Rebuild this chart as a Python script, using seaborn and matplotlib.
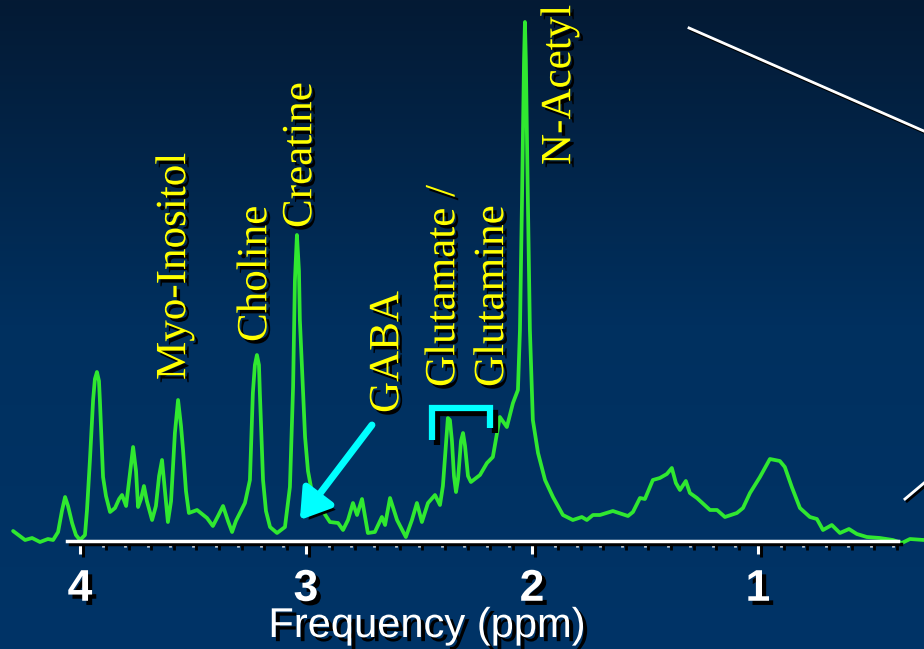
import matplotlib.pyplot as plt
import matplotlib.patheffects as pe
from matplotlib.colors import LinearSegmentedColormap
from matplotlib.lines import Line2D
from matplotlib.ticker import FixedLocator
import numpy as np
import pandas as pd
import seaborn as sns

# spectrum (ppm, intensity in arbitrary units)
ppm = [4.296, 4.243, 4.212, 4.177, 4.142, 4.119, 4.097, 4.080, 4.066, 4.053,
       4.035, 4.018, 4.000, 3.978, 3.969, 3.956, 3.942, 3.934, 3.925, 3.916,
       3.912, 3.898, 3.885, 3.867, 3.845, 3.827, 3.814, 3.796, 3.783, 3.765,
       3.752, 3.743, 3.730, 3.717, 3.704, 3.681, 3.664, 3.650, 3.637, 3.624,
       3.611, 3.597, 3.580, 3.566, 3.553, 3.544, 3.531, 3.518, 3.482, 3.438,
       3.412, 3.389, 3.367, 3.345, 3.327, 3.310, 3.292, 3.270, 3.248, 3.235,
       3.226, 3.217, 3.208, 3.204, 3.190, 3.177, 3.159, 3.128, 3.093, 3.071,
       3.057, 3.049, 3.040, 3.031, 3.027, 3.013, 3.004, 2.991, 2.973, 2.951,
       2.929, 2.894, 2.858, 2.836, 2.814, 2.792, 2.774, 2.752, 2.726, 2.695,
       2.664, 2.650, 2.628, 2.597, 2.558, 2.531, 2.509, 2.487, 2.460, 2.429,
       2.407, 2.394, 2.381, 2.372, 2.363, 2.354, 2.345, 2.336, 2.327, 2.314,
       2.305, 2.296, 2.283, 2.270, 2.230, 2.199, 2.173, 2.142, 2.111, 2.084,
       2.062, 2.053, 2.044, 2.035, 2.031, 2.027, 2.018, 2.009, 1.996, 1.973,
       1.942, 1.907, 1.863, 1.819, 1.779, 1.757, 1.730, 1.699, 1.642, 1.575,
       1.553, 1.522, 1.500, 1.465, 1.434, 1.403, 1.381, 1.363, 1.345, 1.319,
       1.301, 1.270, 1.212, 1.181, 1.146, 1.093, 1.066, 1.035, 0.991, 0.947,
       0.903, 0.881, 0.850, 0.814, 0.770, 0.739, 0.712, 0.673, 0.637, 0.597,
       0.562, 0.518, 0.460, 0.403, 0.363, 0.327, 0.265]
intensity = [10, 1, 3, -1, 2, 1, 9, 30, 44, 35,
             18, 6, 1, 6, 31, 81, 141, 162, 169, 160,
             141, 64, 45, 29, 33, 42, 46, 35, 60, 94,
             70, 34, 42, 55, 40, 21, 35, 65, 81, 50,
             19, 40, 108, 141, 115, 91, 50, 28, 31, 23,
             15, 25, 35, 20, 9, 20, 28, 38, 61, 148,
             176, 186, 176, 148, 61, 30, 14, 8, 14, 54,
             154, 260, 306, 270, 221, 150, 104, 70, 48, 36,
             31, 19, 18, 11, 21, 38, 26, 42, 8, 9,
             24, 16, 43, 21, 4, 21, 38, 19, 38, 46,
             36, 55, 95, 123, 121, 100, 65, 49, 62, 100,
             108, 95, 65, 59, 66, 78, 84, 124, 114, 138,
             151, 211, 341, 481, 519, 481, 341, 211, 121, 88,
             61, 44, 26, 21, 24, 21, 26, 26, 30, 25,
             29, 43, 42, 61, 63, 67, 73, 58, 51, 60,
             48, 43, 31, 31, 24, 28, 33, 48, 64, 82,
             80, 74, 54, 33, 24, 22, 11, 16, 8, 12,
             7, 4, 3, 1, -2, 2, 1]

peak_labels = ['Myo-Inositol', 'Choline', 'Creatine', 'GABA',
               'Glutamate /', 'Glutamine', 'N-Acetyl']
label_ppm = [3.580, 3.221, 3.022, 2.637, 2.389, 2.173, 1.876]
label_base = [161, 199, 313, 128, 154, 154, 376]

major_ticks = [4, 3, 2, 1]
tick_labels = ['4', '3', '2', '1']
minor_ticks = [round(0.4 + 0.1 * i, 1) for i in range(37)]

fig = plt.figure(figsize=(9.24, 6.49), dpi=100)
ax = fig.add_axes([0, 0, 1, 1])

# background gradient
grad = np.linspace(0, 1, 256).reshape(-1, 1)
bg = LinearSegmentedColormap.from_list('bg', ['#041a34', '#00305f', '#003467'])
ax.imshow(grad, cmap=bg, extent=[0, 1, 0, 1], transform=ax.transAxes,
          aspect='auto', zorder=0)

df = pd.DataFrame({'ppm': ppm, 'intensity': intensity})
sns.lineplot(data=df, x='ppm', y='intensity', ax=ax, sort=False,
             color='#30e830', lw=2.7, zorder=3, solid_joinstyle='round',
             solid_capstyle='round')
ax.set_xlabel('')
ax.set_ylabel('')

ax.set_xlim(4.354, 0.265)
ax.set_ylim(-108, 541)

shadow_line = [pe.SimpleLineShadow(offset=(2.5, -2.5), shadow_color='black', alpha=1), pe.Normal()]
shadow_text = [pe.withSimplePatchShadow(offset=(2.5, -2.5), shadow_rgbFace='black', alpha=1)]
shadow_big = [pe.withSimplePatchShadow(offset=(3, -3), shadow_rgbFace='black', alpha=1)]

# x axis
for s in ['top', 'left', 'right']:
    ax.spines[s].set_visible(False)
ax.spines['bottom'].set_position(('data', 0))
ax.spines['bottom'].set_bounds(4.058, 0.382)
ax.spines['bottom'].set_color('white')
ax.spines['bottom'].set_linewidth(2.5)
ax.spines['bottom'].set_path_effects(shadow_line)
ax.spines['bottom'].set_zorder(4)
ax.yaxis.set_visible(False)
ax.xaxis.set_major_locator(FixedLocator(major_ticks))
ax.xaxis.set_minor_locator(FixedLocator(minor_ticks))
ax.set_xticklabels(tick_labels)
ax.tick_params(axis='x', which='major', direction='out', length=9, width=2.2,
               color='white', pad=11, labelsize=32, labelcolor='white')
ax.tick_params(axis='x', which='minor', direction='out', length=4, width=2,
               color='white')
for t in ax.xaxis.get_major_ticks() + ax.xaxis.get_minor_ticks():
    t.tick1line.set_path_effects(shadow_line)
for t in ax.xaxis.get_major_ticks():
    t.label1.set_fontweight('bold')
    t.label1.set_fontfamily('Liberation Sans')
    t.label1.set_path_effects(shadow_big)

ax.text(2.465, -85, 'Frequency (ppm)', ha='center', va='center', color='white',
        fontsize=30, family='Liberation Sans', path_effects=shadow_big)

# peak names
for name, x, y in zip(peak_labels, label_ppm, label_base):
    ax.text(x, y, name, rotation=90, ha='center', va='bottom', color='#ffff00',
            fontsize=31, family='Liberation Serif', path_effects=shadow_text, zorder=5)

# GABA arrow and glutamate bracket
ann = ax.annotate('', xy=(3.027, 21), xytext=(2.708, 116),
                  arrowprops=dict(arrowstyle='-|>,head_length=0.7,head_width=0.45',
                                  color='#00ffff', lw=5, shrinkA=0, shrinkB=0,
                                  mutation_scale=25))
ann.arrow_patch.set_path_effects([pe.SimplePatchShadow(offset=(3.5, -3.5), shadow_rgbFace='black', alpha=1),
                                  pe.Normal()])
ax.plot([2.442, 2.442, 2.186, 2.186], [101, 133, 133, 113], color='#00ffff', lw=4.5,
        solid_joinstyle='miter', solid_capstyle='butt', zorder=4,
        path_effects=[pe.SimpleLineShadow(offset=(3.5, -3.5), shadow_color='black', alpha=1), pe.Normal()])

# decorative diagonal lines at the right edge
for xs, ys in [([0.7457, 1.0], [0.9569, 0.798]), ([0.9794, 1.0], [0.2311, 0.2558])]:
    fig.add_artist(Line2D(xs, ys, transform=fig.transFigure, color='white', lw=2,
                          path_effects=[pe.SimpleLineShadow(offset=(1.5, -1.5), shadow_color='black', alpha=1),
                                        pe.Normal()]))

fig.savefig('out.png', dpi=100)
